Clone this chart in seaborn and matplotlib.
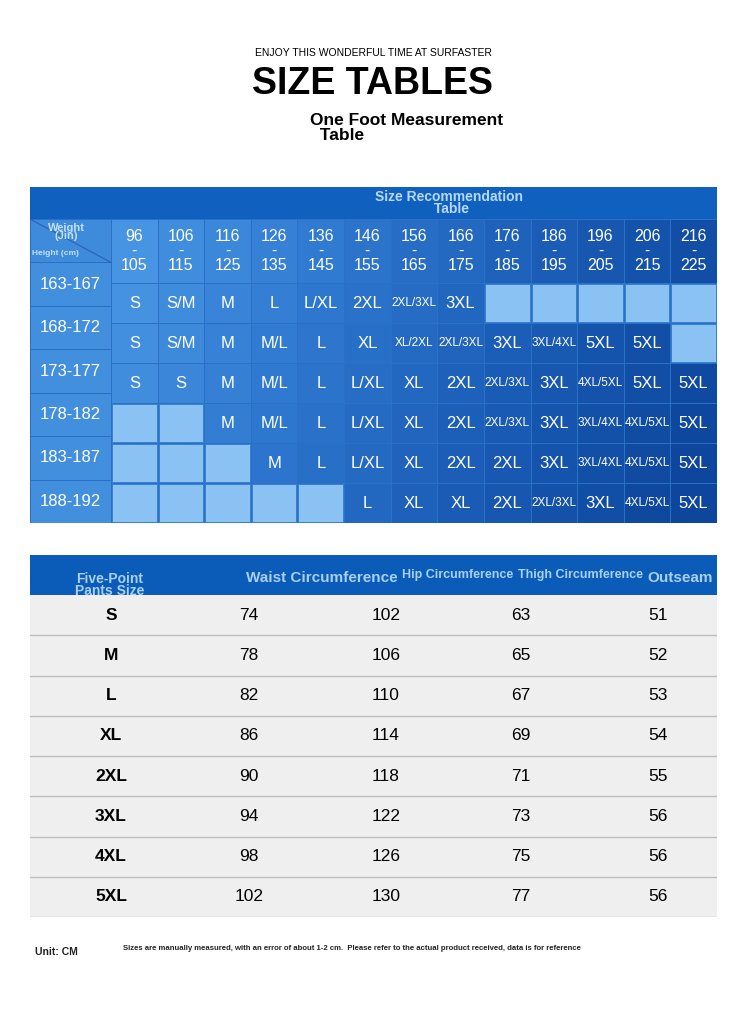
import numpy as np
import pandas as pd
import seaborn as sns
import matplotlib.pyplot as plt
from matplotlib.colors import LinearSegmentedColormap, ListedColormap

W, H = 746, 1024

weight_low = [96, 106, 116, 126, 136, 146, 156, 166, 176, 186, 196, 206, 216]
weight_high = [105, 115, 125, 135, 145, 155, 165, 175, 185, 195, 205, 215, 225]
heights = ['163-167', '168-172', '173-177', '178-182', '183-187', '188-192']
sizes = [
    ['S', 'S/M', 'M', 'L', 'L/XL', '2XL', '2XL/3XL', '3XL', '', '', '', '', ''],
    ['S', 'S/M', 'M', 'M/L', 'L', 'XL', 'XL/2XL', '2XL/3XL', '3XL', '3XL/4XL', '5XL', '5XL', ''],
    ['S', 'S', 'M', 'M/L', 'L', 'L/XL', 'XL', '2XL', '2XL/3XL', '3XL', '4XL/5XL', '5XL', '5XL'],
    ['', '', 'M', 'M/L', 'L', 'L/XL', 'XL', '2XL', '2XL/3XL', '3XL', '3XL/4XL', '4XL/5XL', '5XL'],
    ['', '', '', 'M', 'L', 'L/XL', 'XL', '2XL', '2XL', '3XL', '3XL/4XL', '4XL/5XL', '5XL'],
    ['', '', '', '', '', 'L', 'XL', 'XL', '2XL', '2XL/3XL', '3XL', '4XL/5XL', '5XL'],
]

pants_size = ['S', 'M', 'L', 'XL', '2XL', '3XL', '4XL', '5XL']
waist = [74, 78, 82, 86, 90, 94, 98, 102]
hip = [102, 106, 110, 114, 118, 122, 126, 130]
thigh = [63, 65, 67, 69, 71, 73, 75, 77]
outseam = [51, 52, 53, 54, 55, 56, 56, 56]
pants_headers = ['Five-Point\nPants Size', 'Waist Circumference', 'Hip Circumference',
                 'Thigh Circumference', 'Outseam']

FONT = 'Liberation Sans'
blue_cmap = LinearSegmentedColormap.from_list('b', ['#4a98e4', '#2f78d0', '#1a5cb6', '#0d469c'])


def px_axes(fig, x0, y0, x1, y1):
    return fig.add_axes([x0 / W, 1 - y1 / H, (x1 - x0) / W, (y1 - y0) / H])


fig = plt.figure(figsize=(W / 100, H / 100), dpi=100)
fig.patch.set_facecolor('white')

# titles
fig.text(373 / W, 1 - 53 / H, 'ENJOY THIS WONDERFUL TIME AT SURFASTER', ha='center', va='center',
         fontsize=7.5, family=FONT)
fig.text(373 / W, 1 - 84 / H, 'SIZE TABLES', ha='center', va='center', fontsize=27,
         family=FONT, weight='bold')
fig.text(310 / W, 1 - 128 / H, 'One Foot Measurement\n  Table', ha='left', va='center',
         fontsize=12.5, family=FONT, weight='bold', linespacing=0.95)

# top table: title band
band = px_axes(fig, 30, 187, 717, 219)
band.set_facecolor('#1060c0')
band.set_xticks([]); band.set_yticks([])
for s in band.spines.values():
    s.set_visible(False)
band.text(0.61, 0.5, 'Size Recommendation\n Table', transform=band.transAxes, ha='center',
          va='center', fontsize=10, weight='bold', color='#b8d8f8', family=FONT, linespacing=0.9)

x_split = 111
col_w = (717 - x_split) / 13

# label column (header + heights)
lab_vals = np.vstack([[0.15], np.full((6, 1), 0.1)])
ax_l = px_axes(fig, 30, 219, x_split, 523)
sns.heatmap(pd.DataFrame(lab_vals), ax=ax_l, cmap=blue_cmap, vmin=0, vmax=1, cbar=False,
            linewidths=0.6, linecolor='#2a70c6')
ax_l.set_axis_off()
row_h = [65] + [40] * 6
ax_l.set_ylim(7, 0)
for i, h in enumerate(heights):
    ax_l.text(0.5, i + 1.5, h, ha='center', va='center', fontsize=12, color='white', family=FONT)
ax_l.plot([0, 1], [0, 1], color='#2a64b0', lw=0.8)
ax_l.text(0.45, 0.3, 'Weight\n(Jin)', ha='center', va='center', fontsize=8, weight='bold',
          color='#c4e0fa', family=FONT, linespacing=0.85)
ax_l.text(0.03, 0.8, 'Height (cm)', ha='left', va='center', fontsize=6, weight='bold',
          color='#c4e0fa', family=FONT)

# main grid: header row taller than the data rows, so use two axes
ncol = 13
vals_head = np.array([[c / 12 + 0.05 for c in range(ncol)]])
ax_h = px_axes(fig, x_split, 219, 717, 283)
sns.heatmap(pd.DataFrame(vals_head), ax=ax_h, cmap=blue_cmap, vmin=0, vmax=1.2, cbar=False,
            linewidths=0.6, linecolor='#2a70c6')
ax_h.set_axis_off()
for c in range(ncol):
    ax_h.text(c + 0.5, 0.5, f'{weight_low[c]}\n-\n{weight_high[c]}', ha='center', va='center',
              fontsize=11.5, color='white', family=FONT, linespacing=0.95)

grid = np.array([[c / 12 + r * 0.03 + 0.08 for c in range(ncol)] for r in range(6)])
empty = np.array([[s == '' for s in row] for row in sizes])
ax_g = px_axes(fig, x_split, 283, 717, 523)
sns.heatmap(pd.DataFrame(np.where(empty, 1, 0)), ax=ax_g, cmap=ListedColormap(['#8ac2f4']),
            mask=~empty, cbar=False, linewidths=0.8, linecolor='#3a80d0')
sns.heatmap(pd.DataFrame(grid), ax=ax_g, cmap=blue_cmap, vmin=0, vmax=1.2, mask=empty,
            cbar=False, linewidths=0.6, linecolor='#2a70c6')
ax_g.set_axis_off()
for r, row in enumerate(sizes):
    for c, s in enumerate(row):
        if s:
            fs = 12 if len(s) <= 4 else 8.5
            ax_g.text(c + 0.5, r + 0.5, s, ha='center', va='center', fontsize=fs,
                      color='white', family=FONT)

# bottom table
ax_p = px_axes(fig, 30, 555, 717, 917)
body = pd.DataFrame(np.vstack([[1] * 5, np.zeros((8, 5))]))
sns.heatmap(body, ax=ax_p, cmap=ListedColormap(['#efefef', '#0a5cb8']), vmin=0, vmax=1,
            cbar=False)
ax_p.set_axis_off()
# header row is a little taller than the body rows
ax_p.set_ylim(9, 0)
for r in range(2, 10):
    ax_p.axhline(r, color='#bdbdbd', lw=1)
col_x = [(111 - 30) / col_w / 0 if False else None]
centers_px = [111, 249, 386, 521, 658]
centers = [(x - 30) / (687 / 5) for x in centers_px]
head_pos = [(110, 585), (322, 578), (458, 575), (580, 575), (680, 578)]
head_fs = [10, 11, 9, 9, 11]
for (hx, hy), lab, fs in zip(head_pos, pants_headers, head_fs):
    fig.text(hx / W, 1 - hy / H, lab, ha='center', va='center', fontsize=fs, weight='bold',
             color='#a8cff4', family=FONT, linespacing=0.85)
for i in range(8):
    y = i + 1.5
    ax_p.text(centers[0], y, pants_size[i], ha='center', va='center', fontsize=12.5,
              weight='bold', family=FONT)
    for cx, v in zip(centers[1:], [waist[i], hip[i], thigh[i], outseam[i]]):
        ax_p.text(cx, y, str(v), ha='center', va='center', fontsize=12.5, family=FONT)

# footer
fig.text(35 / W, 1 - 952 / H, 'Unit: CM', ha='left', va='center', fontsize=7.5, weight='bold',
         family=FONT, color='#222222')
fig.text(123 / W, 1 - 948 / H, 'Sizes are manually measured, with an error of about 1-2 cm.  '
         'Please refer to the actual product received, data is for reference',
         ha='left', va='center', fontsize=5.6, weight='bold', family=FONT, color='#222222')

fig.savefig('out.png', dpi=100)
